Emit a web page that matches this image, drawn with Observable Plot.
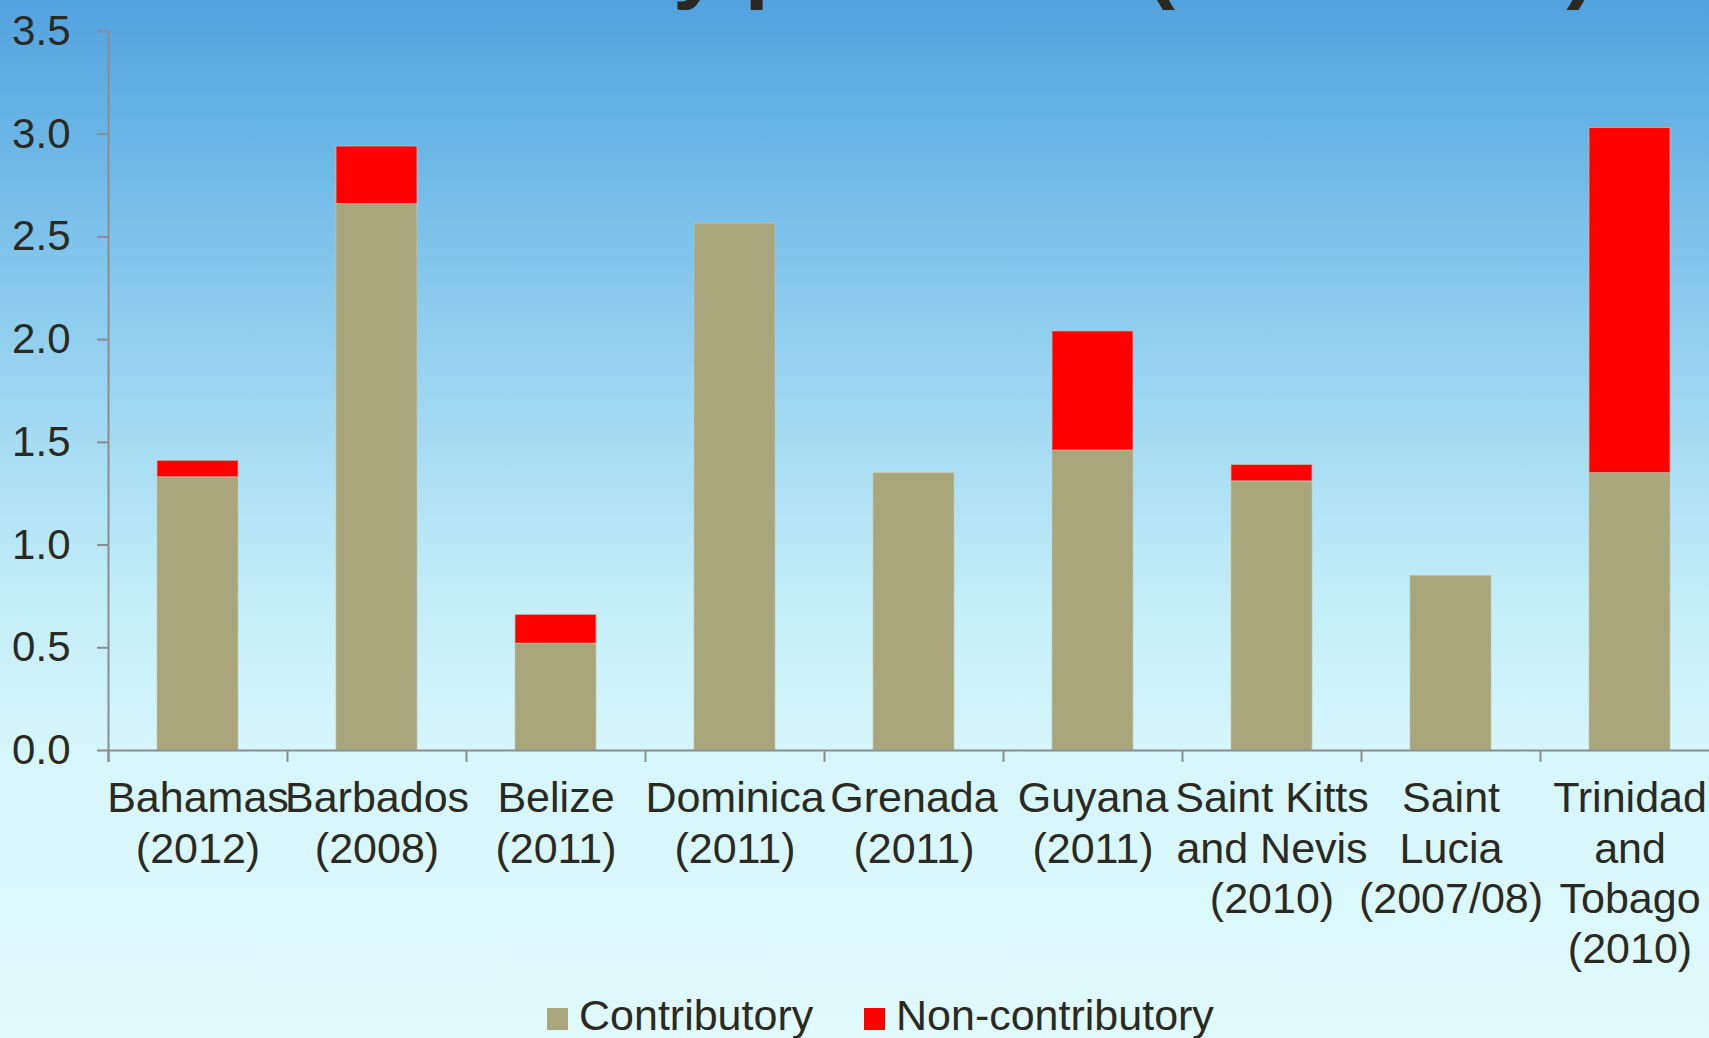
<!DOCTYPE html>
<html><head><meta charset="utf-8">
<script src="https://cdn.jsdelivr.net/npm/d3@7"></script>
<script src="https://cdn.jsdelivr.net/npm/@observablehq/plot@0.6"></script>
<style>
html,body{margin:0;padding:0;width:1709px;height:1038px;overflow:hidden;}
body{position:relative;font-family:"Liberation Sans",Arial,sans-serif;color:#2b2a22;
background:linear-gradient(to bottom,#52a2df 0%,#66b3e5 11.6%,#8ecdee 30.8%,#a2d9f2 40.5%,#c3eef8 57.8%,#d5f6fb 72.3%,#e0fafd 100%);}
#title{position:absolute;left:0;width:1709px;text-align:center;top:-81px;font-size:86px;font-weight:bold;line-height:1;white-space:nowrap;}
#chart{position:absolute;left:0;top:0;width:1720px;}
.legend-item{position:absolute;top:994px;font-size:43px;line-height:1;white-space:nowrap;}
.legend-item .sw{display:inline-block;width:21px;height:22px;vertical-align:baseline;margin-right:11px;}
</style></head><body>
<div id="title">Social security pensions (% of GDP)</div>
<div id="chart"></div>
<div id="legend"></div>
<script>
const countries = ["Bahamas","Barbados","Belize","Dominica","Grenada","Guyana","Saint Kitts and Nevis","Saint Lucia","Trinidad and Tobago"];
const labels = ["Bahamas\n(2012)","Barbados\n(2008)","Belize\n(2011)","Dominica\n(2011)","Grenada\n(2011)","Guyana\n(2011)","Saint Kitts\nand Nevis\n(2010)","Saint\nLucia\n(2007/08)","Trinidad\nand\nTobago\n(2010)"];
const contributory = [1.33, 2.66, 0.52, 2.565, 1.35, 1.46, 1.31, 0.85, 1.35];
const nonContributory = [0.08, 0.28, 0.14, 0, 0, 0.58, 0.08, 0, 1.68];
const series = ["Contributory","Non-contributory"];
const seriesColors = ["#a9a67c","#ff0000"];
const yTicks = [0, 0.5, 1, 1.5, 2, 2.5, 3, 3.5];

const rows = [];
countries.forEach((c, i) => {
  rows.push({country: c, series: series[0], value: contributory[i]});
  if (nonContributory[i] > 0) rows.push({country: c, series: series[1], value: nonContributory[i]});
});

const W = 1720, H = 990, ML = 108, MR = 1, MT = 31, MB = 240;
const step = (W - ML - MR) / countries.length;
const axisColor = "#8c8c8c";
const textColor = "#2b2a22";

const plot = Plot.plot({
  width: W, height: H,
  marginLeft: ML, marginRight: MR, marginTop: MT, marginBottom: MB,
  style: {background: "transparent", fontFamily: "'Liberation Sans', Arial, sans-serif", color: textColor, overflow: "visible", maxWidth: "none"},
  x: {domain: countries, paddingInner: 0.55, paddingOuter: 0.275, axis: null},
  y: {domain: [0, 3.5], axis: null},
  color: {domain: series, range: seriesColors},
  marks: [
    Plot.barY(rows, {x: "country", y: "value", fill: "series", stroke: "#c4c4b4", strokeWidth: 1, strokeOpacity: 0.7}),
    Plot.ruleY([0], {stroke: axisColor, strokeWidth: 2}),
    Plot.ruleX(countries, {x: d => d, dx: -step / 2, y1: 0, y2: 0, insetBottom: -12, stroke: axisColor, strokeWidth: 2}),
    Plot.ruleX([countries[0]], {x: d => d, dx: -step / 2, y1: 3.5, y2: 0, insetBottom: -12, stroke: axisColor, strokeWidth: 2}),
    Plot.axisY({ticks: yTicks, tickFormat: d3.format(".1f"), tickSize: 11, tickPadding: 27, fontSize: 42, stroke: axisColor, strokeWidth: 2, fill: textColor, label: null}),
    Plot.text(countries, {x: d => d, y: () => 0, text: (d, i) => labels[i], lineAnchor: "top", dy: 26, fontSize: 43, lineHeight: 1.17, fill: textColor})
  ]
});
document.getElementById("chart").appendChild(plot);

const legend = document.getElementById("legend");
const legendLeft = [547, 864];
series.forEach((s, i) => {
  const item = document.createElement("div");
  item.className = "legend-item";
  item.style.left = legendLeft[i] + "px";
  const sw = document.createElement("span");
  sw.className = "sw";
  sw.style.background = seriesColors[i];
  item.appendChild(sw);
  const t = document.createElement("span");
  t.textContent = s;
  item.appendChild(t);
  legend.appendChild(item);
});
</script>
</body></html>
